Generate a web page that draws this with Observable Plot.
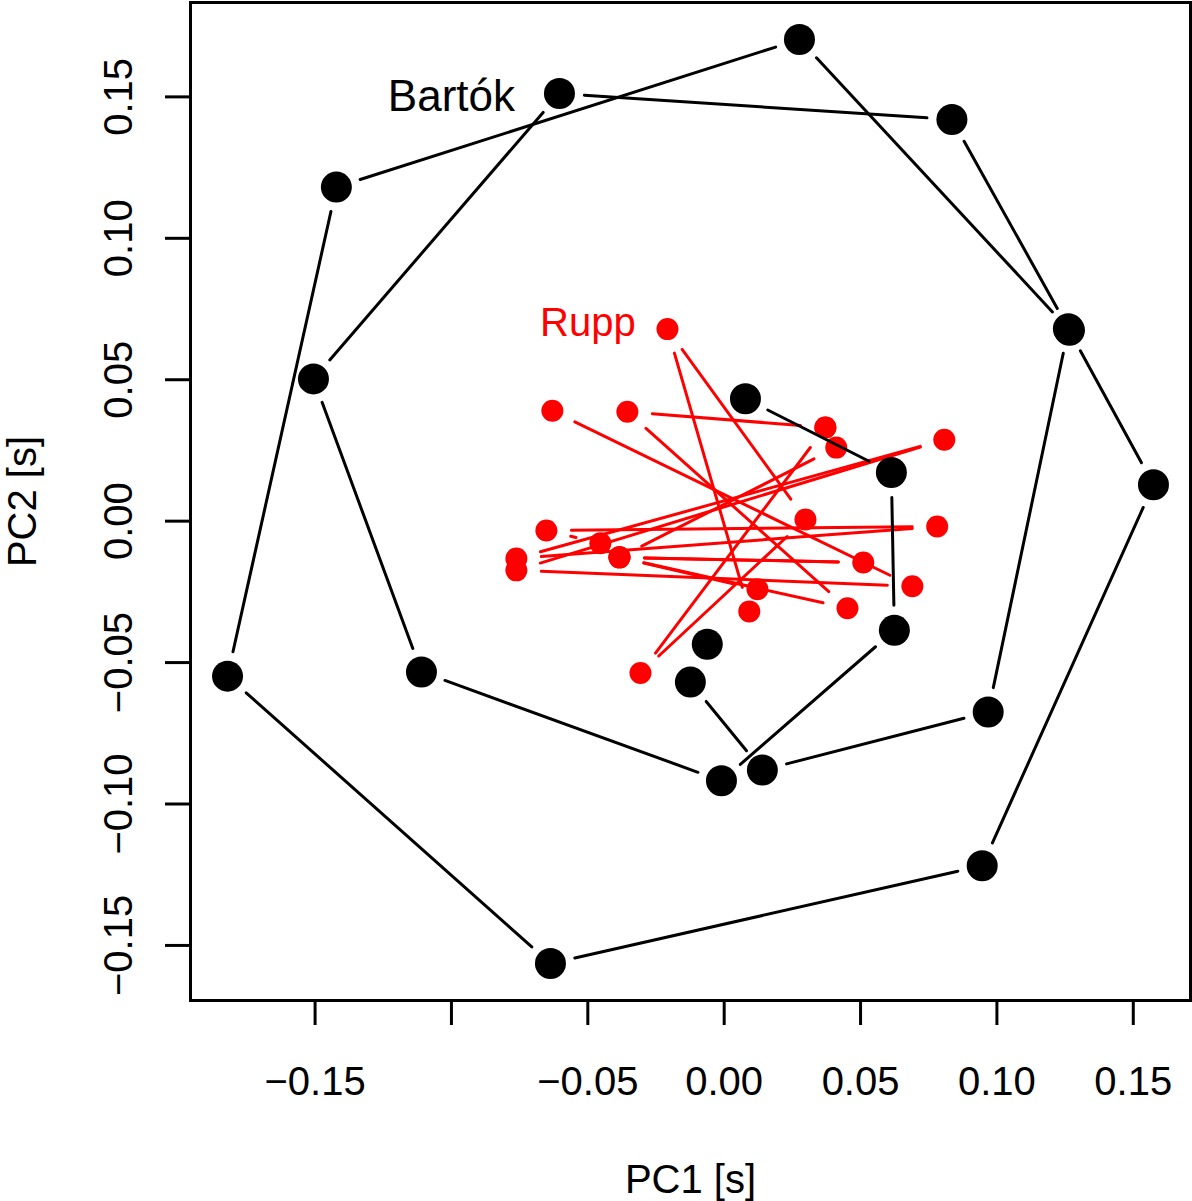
<!DOCTYPE html>
<html><head><meta charset="utf-8">
<script src="https://cdn.jsdelivr.net/npm/d3@7"></script>
<script src="https://cdn.jsdelivr.net/npm/@observablehq/plot@0.6"></script>
<style>body{margin:0;background:#fff} svg{display:block}</style>
</head><body><div id="chart"></div>
<script>
// Bartók trajectory (in drawing order)
const bartokPC1 = [0.0078, 0.0613, 0.0624, -0.0010, -0.1110, -0.1506, -0.0604, 0.0835, 0.1266, 0.0276,
                   -0.1422, -0.1821, -0.0637, 0.0946, 0.1574, 0.1262, 0.0968, 0.0140, -0.0124, -0.0062];
const bartokPC2 = [0.0433, 0.0172, -0.0386, -0.0918, -0.0533, 0.0503, 0.1512, 0.1420, 0.0675, 0.1703,
                   0.1181, -0.0548, -0.1564, -0.1218, 0.0129, 0.0680, -0.0675, -0.0880, -0.0569, -0.0435];
// Rupp trajectory (in drawing order)
const ruppPC1 = [-0.0630, 0.0690, -0.0762, 0.0807, -0.0762, 0.0781, -0.0652, -0.0454, -0.0384, 0.0510, -0.0384,
                 0.0411, 0.0371, -0.0307, 0.0298, -0.0208, 0.0092, 0.0122, -0.0384, 0.0452, -0.0355, 0.0371];
const ruppPC2 = [0.0390, -0.0230, -0.0174, 0.0288, -0.0132, -0.0019, -0.0033, -0.0078, -0.0128, -0.0146, -0.0128,
                 0.0260, 0.0331, -0.0537, 0.0006, 0.0679, -0.0319, -0.0241, -0.0128, -0.0308, 0.0387, 0.0331];

const xTicks = [-0.15, -0.10, -0.05, 0, 0.05, 0.10, 0.15];
const xTickLabels = ["−0.15", "", "−0.05", "0.00", "0.05", "0.10", "0.15"];
const yTicks = [-0.15, -0.10, -0.05, 0, 0.05, 0.10, 0.15];
const yTickLabels = ["−0.15", "−0.10", "−0.05", "0.00", "0.05", "0.10", "0.15"];
const seriesNames = ["Bartók", "Rupp"];
const seriesLabelPC1 = [-0.10, -0.05];
const seriesLabelPC2 = [0.15, 0.07];

function expand([a, b]) { const d = (b - a) * 0.04; return [a - d, b + d]; }
const xDomain = expand(d3.extent([...bartokPC1, ...ruppPC1]));
const yDomain = expand(d3.extent([...bartokPC2, ...ruppPC2]));

const bartok = bartokPC1.map((x, i) => ({x, y: bartokPC2[i]}));
const rupp = ruppPC1.map((x, i) => ({x, y: ruppPC2[i]}));
const toLinks = pts => d3.pairs(pts).map(([a, b]) => ({x1: a.x, y1: a.y, x2: b.x, y2: b.y}));
const bartokLinks = toLinks(bartok);
const ruppLinks = toLinks(rupp);

const font = "'Liberation Sans', Arial, Helvetica, sans-serif";

const plot = Plot.plot({
  width: 1192, height: 1201,
  marginLeft: 190, marginRight: 2, marginTop: 2, marginBottom: 201,
  x: {domain: xDomain},
  y: {domain: yDomain},
  style: {fontFamily: font, background: "white", color: "black"},
  marks: [
    Plot.arrow(ruppLinks, {x1: "x1", y1: "y1", x2: "x2", y2: "y2", stroke: "#ff0000", strokeWidth: 3, headLength: 0, inset: 25}),
    Plot.dot(rupp, {x: "x", y: "y", r: 11, fill: "#ff0000"}),
    Plot.arrow(bartokLinks, {x1: "x1", y1: "y1", x2: "x2", y2: "y2", stroke: "black", strokeWidth: 3, headLength: 0, inset: 25}),
    Plot.dot(bartok, {x: "x", y: "y", r: 15.5, fill: "black"}),
    Plot.frame({stroke: "black", strokeWidth: 3}),
    Plot.axisX(xTicks, {tickSize: 25, tickPadding: 41, strokeWidth: 3, fontSize: 40,
      tickFormat: d => xTickLabels[xTicks.indexOf(d)], label: null}),
    Plot.axisY(yTicks, {tickSize: 25, strokeWidth: 3, tickFormat: () => "", label: null}),
    Plot.text(yTicks, {y: d => d, text: d => yTickLabels[yTicks.indexOf(d)], frameAnchor: "left", dx: -59,
      rotate: -90, textAnchor: "middle", lineAnchor: "bottom", fontSize: 40}),
    Plot.text(["PC1 [s]"], {frameAnchor: "bottom", dy: 192, textAnchor: "middle", lineAnchor: "bottom", fontSize: 40}),
    Plot.text(["PC2 [s]"], {frameAnchor: "left", dx: -155, rotate: -90, textAnchor: "middle", lineAnchor: "bottom", fontSize: 40}),
    Plot.text([0], {x: () => seriesLabelPC1[0], y: () => seriesLabelPC2[0], text: () => seriesNames[0], fill: "black", fontSize: 44}),
    Plot.text([1], {x: () => seriesLabelPC1[1], y: () => seriesLabelPC2[1], text: () => seriesNames[1], fill: "#ff0000", fontSize: 40})
  ]
});
document.getElementById("chart").appendChild(plot);
</script>
</body></html>
